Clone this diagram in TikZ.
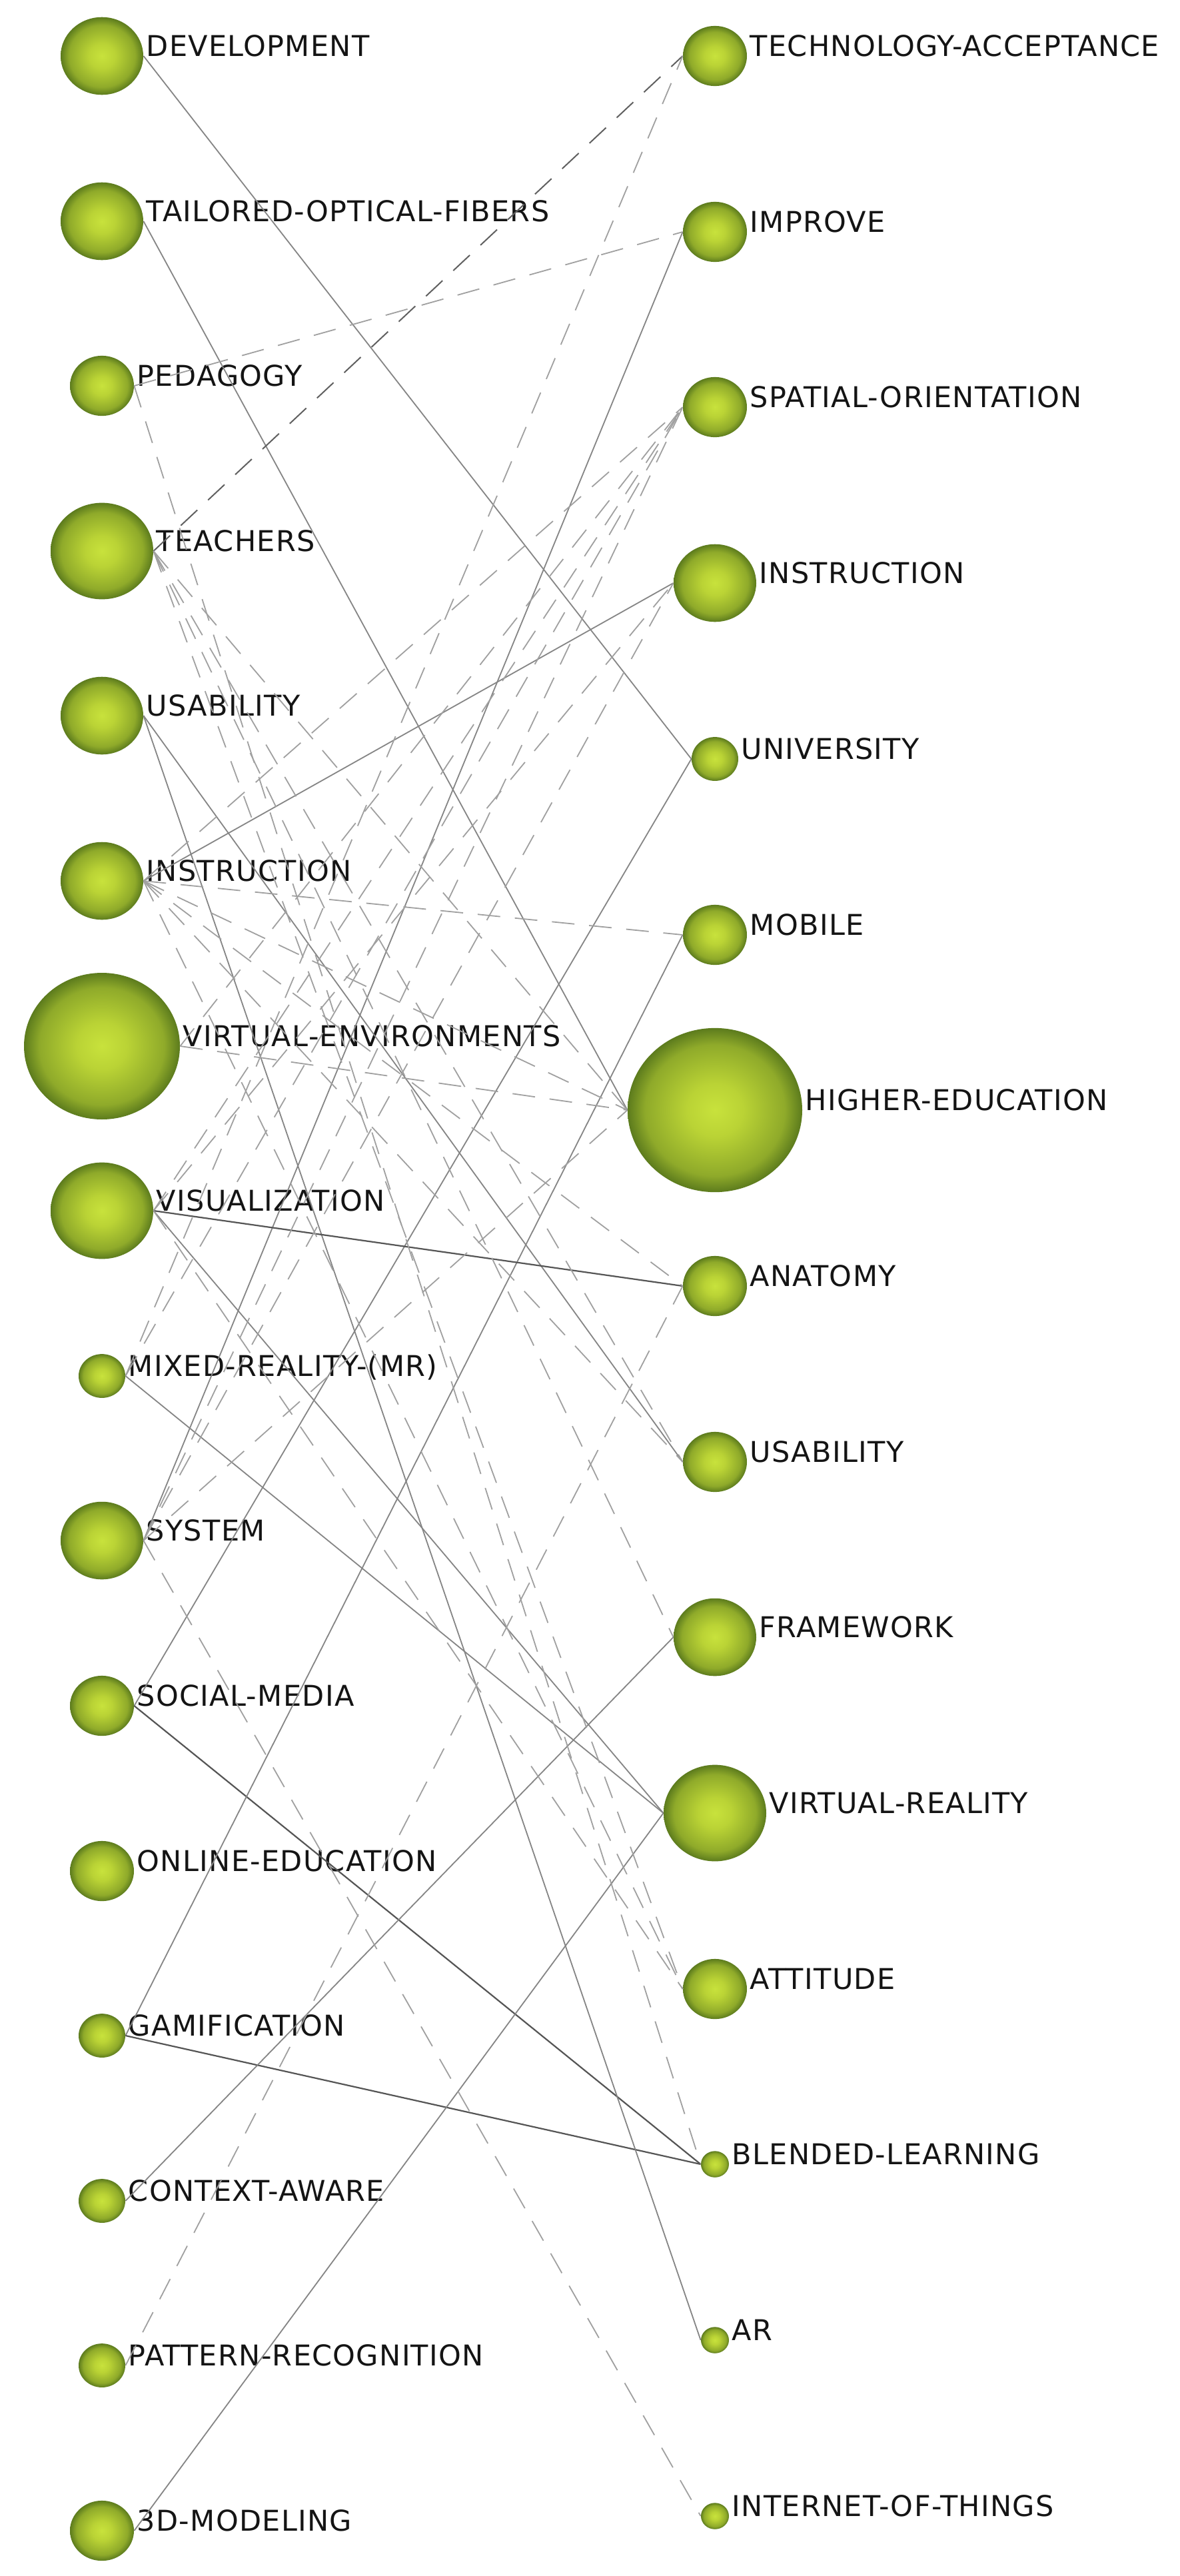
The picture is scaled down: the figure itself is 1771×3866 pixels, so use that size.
\documentclass[tikz,border=0pt]{standalone}
\usepackage{fontspec}
\setmainfont[LetterSpace=3]{DejaVu Sans}
\usetikzlibrary{shapes.geometric}
\definecolor{bcA}{HTML}{C8E23C}
\definecolor{bcB}{HTML}{BAD335}
\definecolor{bcC}{HTML}{8FAA2A}
\definecolor{bcD}{HTML}{5C7B1D}
\definecolor{edgeS}{HTML}{858585}
\definecolor{edgeK}{HTML}{555555}
\definecolor{edgeD}{HTML}{A0A0A0}
\definecolor{edgeDK}{HTML}{606060}
\pgfdeclareradialshading{ballg}{\pgfpoint{0bp}{0bp}}{color(0bp)=(bcA); color(8bp)=(bcB); color(20bp)=(bcC); color(25bp)=(bcD); color(50bp)=(bcD)}
\tikzset{
  kw/.style={ellipse, inner sep=0pt, shading=ballg, draw=none},
  lab/.style={anchor=base west, inner sep=0pt, font=\fontsize{21.5pt}{24pt}\selectfont, text=black!92},
  sl/.style={draw=edgeS, line width=0.9pt},
  slk/.style={draw=edgeK, line width=1.1pt},
  dl/.style={draw=edgeD, line width=0.9pt, dash pattern=on 17pt off 11pt},
  dlk/.style={draw=edgeDK, line width=1pt, dash pattern=on 17pt off 11pt},
}
\begin{document}
\begin{tikzpicture}[x=0.5pt, y=-0.5pt]
\useasboundingbox[fill=white] (0,0) rectangle (1771,3866);
% left column
\foreach \n/\y/\r/\t in {
  dev/84/62/DEVELOPMENT,
  tof/332/62/TAILORED-OPTICAL-FIBERS,
  ped/579/48/PEDAGOGY,
  tea/827/77/TEACHERS,
  usaL/1074/62/USABILITY,
  insL/1322/62/INSTRUCTION,
  ve/1570/117/VIRTUAL-ENVIRONMENTS,
  vis/1817/77/VISUALIZATION,
  mr/2065/35/MIXED-REALITY-(MR),
  sys/2312/62/SYSTEM,
  sm/2560/48/SOCIAL-MEDIA,
  oe/2808/48/ONLINE-EDUCATION,
  gam/3055/35/GAMIFICATION,
  ca/3303/35/CONTEXT-AWARE,
  pr/3550/35/PATTERN-RECOGNITION,
  tdm/3798/48/3D-MODELING}{
  \node[kw, minimum width=\r pt, minimum height=0.94*\r pt] (\n) at (153,\y) {};
  \node[lab] (\n-t) at ([xshift=2pt]\n.east) {\t};
}
% right column
\foreach \n/\y/\r/\t in {
  ta/84/48/TECHNOLOGY-ACCEPTANCE,
  imp/348/48/IMPROVE,
  so/611/48/SPATIAL-ORIENTATION,
  insR/875/62/INSTRUCTION,
  uni/1139/35/UNIVERSITY,
  mob/1403/48/MOBILE,
  he/1666/131/HIGHER-EDUCATION,
  ana/1930/48/ANATOMY,
  usaR/2194/48/USABILITY,
  fw/2457/62/FRAMEWORK,
  vr/2721/77/VIRTUAL-REALITY,
  att/2985/48/ATTITUDE,
  bl/3248/21/BLENDED-LEARNING,
  ar/3512/21/AR,
  iot/3776/21/INTERNET-OF-THINGS}{
  \node[kw, minimum width=\r pt, minimum height=0.94*\r pt] (\n) at (1073,\y) {};
  \node[lab] (\n-t) at ([xshift=2pt]\n.east) {\t};
}
% solid edges
\draw[sl] (dev.east) -- (uni.west);
\draw[sl] (tof.east) -- (he.west);
\draw[sl] (sys.east) -- (imp.west);
\draw[sl] (sm.east) -- (uni.west);
\draw[slk] (sm.east) -- (bl.west);
\draw[sl] (gam.east) -- (mob.west);
\draw[slk] (gam.east) -- (bl.west);
\draw[sl] (ca.east) -- (fw.west);
\draw[sl] (tdm.east) -- (vr.west);
\draw[sl] (usaL.east) -- (ar.west);
\draw[sl] (usaL.east) -- (usaR.west);
\draw[sl] (mr.east) -- (vr.west);
\draw[sl] (vis.east) -- (vr.west);
\draw[slk] (vis.east) -- (ana.west);
\draw[sl] (insL.east) -- (insR.west);
% dashed edges
\draw[dl] (ped.east) -- (imp.west);
\draw[dlk] (tea.east) -- (ta.west);
\draw[dl] (mr.east) -- (ta.west);
\draw[dl] (sys.east) -- (iot.west);
\draw[dl] (pr.east) -- (ana.west);
\draw[dl] (insL.east) -- (ana.west);
\draw[dl] (sys.east) -- (he.west);
\draw[dl] (ped.east) -- (bl.west);
\draw[dl] (tea.east) -- (fw.west);
\draw[dl] (tea.east) -- (he.west);
\draw[dl] (tea.east) -- (att.west);
\draw[dl] (tea.east) -- (usaR.west);
\draw[dl] (vis.east) -- (att.west);
\draw[dl] (vis.east) -- (insR.west);
\draw[dl] (vis.east) -- (so.west);
\draw[dl] (insL.east) -- (mob.west);
\draw[dl] (insL.east) -- (so.west);
\draw[dl] (insL.east) -- (he.west);
\draw[dl] (insL.east) -- (usaR.west);
\draw[dl] (insL.east) -- (att.west);
\draw[dl] (ve.east) -- (he.west);
\draw[dl] (ve.east) -- (so.west);
\draw[dl] (mr.east) -- (so.west);
\draw[dl] (sys.east) -- (so.west);
\draw[dl] (sys.east) -- (insR.west);
\end{tikzpicture}
\end{document}
